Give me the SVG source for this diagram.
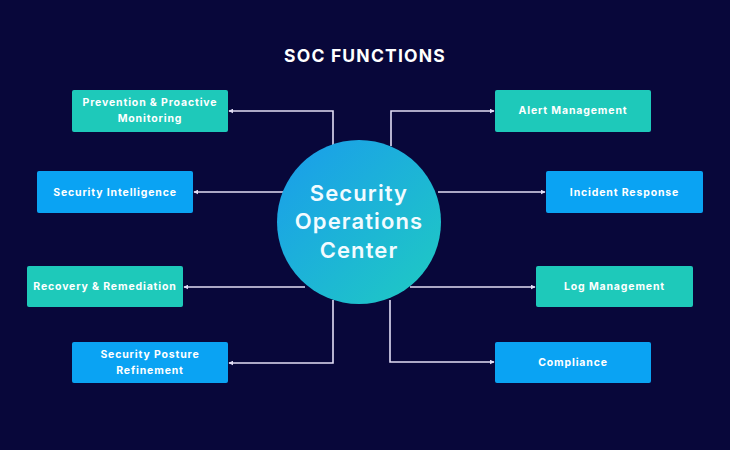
<svg xmlns="http://www.w3.org/2000/svg" width="730" height="450" viewBox="0 0 730 450">
<defs>
<linearGradient id="cg" x1="0" y1="0" x2="1" y2="1">
<stop offset="0" stop-color="#1a9cec"/>
<stop offset="1" stop-color="#1fcbc2"/>
</linearGradient>
<marker id="ah" viewBox="0 0 8 8" refX="7" refY="4" markerWidth="5" markerHeight="5" orient="auto-start-reverse" markerUnits="userSpaceOnUse">
<path d="M0,0 L8,4 L0,8 z" fill="#e2def5"/>
</marker>
<style>
.teal{fill:#1ec9ba}
.blue{fill:#0aa3f3}
.bt{font-family:Inter,"Noto Sans","DejaVu Sans",sans-serif;font-weight:700;font-size:10.5px;fill:#ffffff;text-anchor:middle;letter-spacing:0.85px}
.ct{font-family:Inter,"Noto Sans","DejaVu Sans",sans-serif;font-weight:600;font-size:22px;fill:#f2fbff;text-anchor:middle;letter-spacing:1.1px}
.conn{fill:none;stroke:#e2def5;stroke-width:1.6;marker-end:url(#ah)}
</style>
</defs>
<rect width="730" height="450" fill="#08073a"/>
<text x="365" y="62" font-family="Inter,'Noto Sans','DejaVu Sans',sans-serif" font-weight="700" font-size="17.5" fill="#ffffff" text-anchor="middle" letter-spacing="1.2">SOC FUNCTIONS</text>
<g id="connectors">
<path class="conn" d="M333,146 V111 H229"/>
<path class="conn" d="M283,192 H194"/>
<path class="conn" d="M305,287 H184"/>
<path class="conn" d="M333,300 V363 H229"/>
<path class="conn" d="M391,146 V111 H494"/>
<path class="conn" d="M438,192 H545"/>
<path class="conn" d="M410,287 H535"/>
<path class="conn" d="M390,300 V362 H494"/>
</g>
<g id="center">
<circle cx="359" cy="222" r="82" fill="url(#cg)"/>
<text class="ct" x="359" y="201">Security</text>
<text class="ct" x="359" y="229">Operations</text>
<text class="ct" x="359" y="258">Center</text>
</g>
<g id="prevention">
<rect class="teal" x="72" y="90" width="156" height="42" rx="2"/>
<text class="bt" x="150" y="106">Prevention &amp; Proactive</text>
<text class="bt" x="150" y="122">Monitoring</text>
</g>
<g id="intelligence">
<rect class="blue" x="37" y="171" width="156" height="42" rx="2"/>
<text class="bt" x="115" y="195.5">Security Intelligence</text>
</g>
<g id="recovery">
<rect class="teal" x="27" y="266" width="156" height="41" rx="2"/>
<text class="bt" x="105" y="290">Recovery &amp; Remediation</text>
</g>
<g id="posture">
<rect class="blue" x="72" y="342" width="156" height="41" rx="2"/>
<text class="bt" x="150" y="358">Security Posture</text>
<text class="bt" x="150" y="374">Refinement</text>
</g>
<g id="alert">
<rect class="teal" x="495" y="90" width="156" height="42" rx="2"/>
<text class="bt" x="573" y="114">Alert Management</text>
</g>
<g id="incident">
<rect class="blue" x="546" y="171" width="157" height="42" rx="2"/>
<text class="bt" x="624.5" y="195.5">Incident Response</text>
</g>
<g id="log">
<rect class="teal" x="536" y="266" width="157" height="41" rx="2"/>
<text class="bt" x="614.5" y="290">Log Management</text>
</g>
<g id="compliance">
<rect class="blue" x="495" y="342" width="156" height="41" rx="2"/>
<text class="bt" x="573" y="366">Compliance</text>
</g>
</svg>
